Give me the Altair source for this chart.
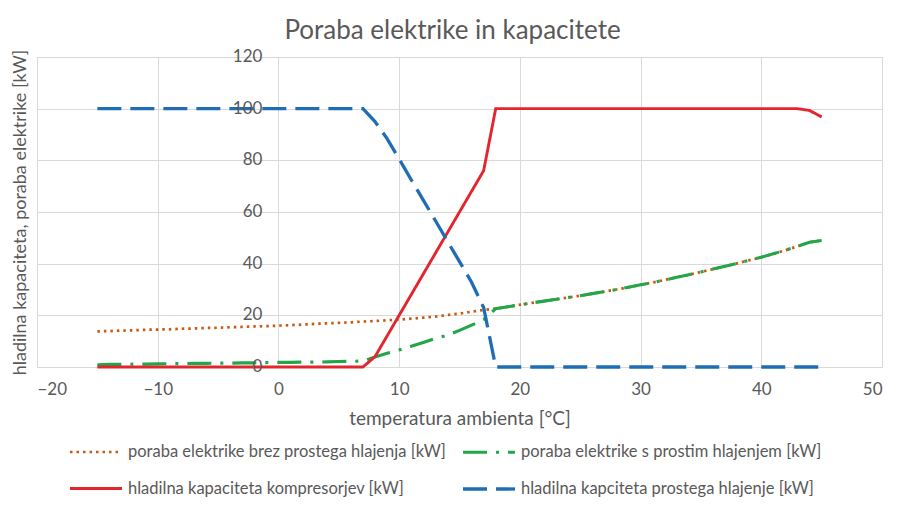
import altair as alt
import pandas as pd

S1 = "poraba elektrike brez prostega hlajenja [kW]"
S2 = "poraba elektrike s prostim hlajenjem [kW]"
S3 = "hladilna kapaciteta kompresorjev [kW]"
S4 = "hladilna kapciteta prostega hlajenje [kW]"
# legend is filled column by column, so this order gives rows (S1, S2) and (S3, S4)
series_names = [S1, S3, S2, S4]

temps = list(range(-15, 46))

tail = [22.6, 23.3, 24.1, 24.8, 25.5, 26.2, 26.9, 27.6, 28.4, 29.2, 30.0, 30.9,
        31.8, 32.7, 33.7, 34.7, 35.7, 36.8, 37.9, 39.0, 40.1, 41.3, 42.5, 43.8,
        45.2, 46.7, 48.3, 49.0]  # 18..45

brez_head = [13.8, 13.9, 14.1, 14.2, 14.4, 14.5, 14.6, 14.8, 14.9, 15.1, 15.2, 15.4,
             15.5, 15.7, 15.8, 16.0, 16.2, 16.4, 16.7, 16.9, 17.1, 17.3, 17.6, 17.8,
             18.1, 18.3, 18.7, 19.1, 19.5, 20.1, 20.7, 21.4, 22.1]  # -15..17
brez = brez_head + tail

s_prostim_head = [0.9, 1.0, 1.0, 1.1, 1.1, 1.2, 1.3, 1.3, 1.4, 1.4, 1.5, 1.5, 1.6,
                  1.6, 1.7, 1.8, 1.8, 1.9, 1.9, 2.0, 2.1, 2.2, 2.3, 3.9, 5.3, 6.6,
                  8.0, 9.5, 11.0, 12.3, 14.2, 16.2, 18.3]  # -15..17
s_prostim = s_prostim_head + tail

kompresorji = [0.0] * 23 + [4, 12, 20, 28, 36, 44, 52, 60, 68, 76] + [100.0] * 26 + [99.3, 96.8]

prosto = [100.0] * 23 + [95.0, 88.4, 80.5, 72.5, 64.6, 56.7, 48.7, 40.8, 32.8, 23.0] + [0.0] * 28

values_by_series = {S1: brez, S2: s_prostim, S3: kompresorji, S4: prosto}
rows = []
for name in [S1, S2, S3, S4]:
    for t, v in zip(temps, values_by_series[name]):
        rows.append({"t": t, "v": v, "serija": name})
df = pd.DataFrame(rows)

x_ticks = [-20, -10, 0, 10, 20, 30, 40, 50]
y_ticks = [0, 20, 40, 60, 80, 100, 120]
ylab = pd.DataFrame({"t": [0] * len(y_ticks), "v": y_ticks, "lab": [str(v) for v in y_ticks]})

style = {
    S1: ("#C55A11", [2.5, 4], 2.7),
    S2: ("#22A64A", [24, 9, 3, 9], 3.2),
    S3: ("#E3262D", [1, 0], 3.3),
    S4: ("#1F6DB5", [24, 9], 3.2),
}
colors = [style[s][0] for s in series_names]
dashes = [style[s][1] for s in series_names]
widths = [style[s][2] for s in series_names]

TXT = "#595959"
FONT = "Lato"

xscale = alt.Scale(domain=[-20, 50], nice=False, zero=False)
yscale = alt.Scale(domain=[0, 120], nice=False)

lines = alt.Chart(df).mark_line().encode(
    x=alt.X("t:Q", scale=xscale,
            axis=alt.Axis(values=x_ticks, title="temperatura ambienta [°C]", grid=True,
                          gridColor="#D9D9D9", domain=False, ticks=False,
                          labelFontSize=17, labelColor=TXT, labelPadding=14,
                          titleFontSize=19, titleColor=TXT, titleFontWeight="normal",
                          titlePadding=12, labelFont=FONT, titleFont=FONT)),
    y=alt.Y("v:Q", scale=yscale,
            axis=alt.Axis(values=y_ticks, title="hladilna kapaciteta, poraba elektrike [kW]",
                          grid=True, gridColor="#D9D9D9", domain=False, ticks=False,
                          labels=False, titleFontSize=18, titleColor=TXT,
                          titleFontWeight="normal", titleFont=FONT,
                          titleX=-17, titleY=155, titleAlign="center",
                          titleBaseline="middle", titleAngle=-90)),
    color=alt.Color("serija:N", scale=alt.Scale(domain=series_names, range=colors),
                    legend=alt.Legend(title=None, orient="none", legendX=31, legendY=367,
                                      columns=2, columnPadding=10, rowPadding=-17,
                                      symbolType="stroke", symbolSize=2700,
                                      symbolStrokeWidth=3.2, labelFontSize=16.5,
                                      labelColor=TXT, labelFont=FONT, labelOffset=4,
                                      labelLimit=500, padding=0)),
    strokeDash=alt.StrokeDash("serija:N", scale=alt.Scale(domain=series_names, range=dashes)),
    strokeWidth=alt.StrokeWidth("serija:N", scale=alt.Scale(domain=series_names, range=widths),
                                legend=None),
    order=alt.Order("t:Q"),
)

labels = alt.Chart(ylab).mark_text(align="right", baseline="middle", dx=-16,
                                   fontSize=17, color=TXT, font=FONT).encode(
    x=alt.X("t:Q", scale=xscale),
    y=alt.Y("v:Q", scale=yscale),
    text="lab:N",
)

chart = alt.layer(lines, labels).properties(
    width=845, height=310,
    title=alt.TitleParams("Poraba elektrike in kapacitete", fontSize=26, color=TXT,
                          font=FONT, fontWeight="normal", anchor="middle", offset=4, dx=-7),
    autosize=alt.AutoSizeParams(type="none"),
    padding={"left": 29, "top": 49, "right": 16, "bottom": 135},
).configure_view(stroke="#D9D9D9")

chart.save("out.html", embed_options={"renderer": "svg", "actions": False})
